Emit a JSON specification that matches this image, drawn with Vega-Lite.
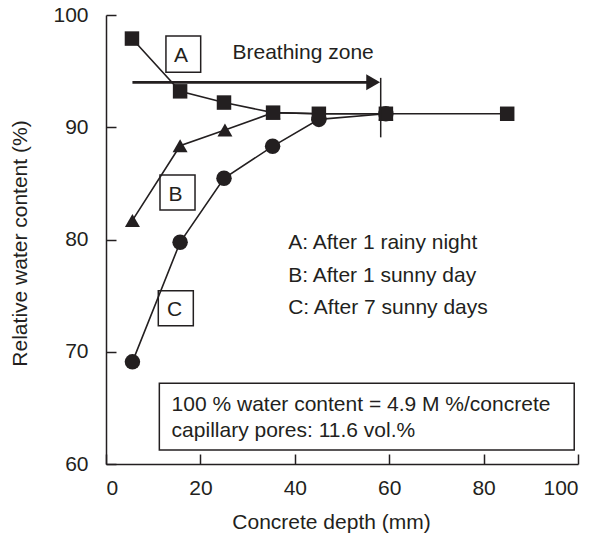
{
  "$schema": "https://vega.github.io/schema/vega-lite/v6.json",
  "width": 472,
  "height": 449,
  "autosize": "none",
  "padding": {"left": 106, "top": 15, "right": 31, "bottom": 78},
  "background": "white",
  "config": {
    "view": {"stroke": null},
    "font": "Liberation Sans",
    "axis": {
      "grid": false,
      "domainColor": "#231f20",
      "domainWidth": 1.5,
      "tickColor": "#231f20",
      "tickWidth": 1.5,
      "tickSize": -10,
      "labelFont": "Liberation Sans",
      "labelFontSize": 21,
      "labelColor": "#231f20",
      "titleFont": "Liberation Sans",
      "titleFontSize": 21,
      "titleFontWeight": "normal",
      "titleColor": "#231f20"
    }
  },
  "datasets": {
    "series": [
      {"series": "C", "depth": 5.6, "rwc": 69.1},
      {"series": "C", "depth": 15.7, "rwc": 79.75},
      {"series": "C", "depth": 25.0, "rwc": 85.45},
      {"series": "C", "depth": 35.3, "rwc": 88.3},
      {"series": "C", "depth": 45.1, "rwc": 90.7},
      {"series": "C", "depth": 59.3, "rwc": 91.2},
      {"series": "B", "depth": 5.6, "rwc": 81.7},
      {"series": "B", "depth": 15.7, "rwc": 88.35},
      {"series": "B", "depth": 25.2, "rwc": 89.75},
      {"series": "B", "depth": 35.4, "rwc": 91.3},
      {"series": "B", "depth": 45.1, "rwc": 91.2},
      {"series": "B", "depth": 59.3, "rwc": 91.2},
      {"series": "A", "depth": 5.5, "rwc": 97.9},
      {"series": "A", "depth": 15.7, "rwc": 93.2},
      {"series": "A", "depth": 25.0, "rwc": 92.2},
      {"series": "A", "depth": 35.4, "rwc": 91.3},
      {"series": "A", "depth": 45.1, "rwc": 91.2},
      {"series": "A", "depth": 59.3, "rwc": 91.2},
      {"series": "A", "depth": 85.0, "rwc": 91.2}
    ],
    "arrow": [
      {"x": 5.6, "y": 94.0},
      {"x": 56.0, "y": 94.0}
    ],
    "arrowhead": [{"x": 56.6, "y": 94.0}],
    "vrule": [{"x": 58.2, "y": 94.4, "y2": 89.1}],
    "boxes": [
      {"x": 12.7, "x2": 20.06, "y": 98.13, "y2": 94.9},
      {"x": 11.44, "x2": 18.86, "y": 85.75, "y2": 82.63},
      {"x": 11.08, "x2": 18.5, "y": 75.44, "y2": 72.32},
      {"x": 11.3, "x2": 99.2, "y": 67.19, "y2": 61.25}
    ],
    "centered": [
      {"label": "A", "x": 15.9, "y": 95.84},
      {"label": "B", "x": 14.7, "y": 83.46},
      {"label": "C", "x": 14.55, "y": 73.21}
    ],
    "lefttext": [
      {"label": "Breathing zone", "x": 26.8, "y": 96.05},
      {"label": "A: After 1 rainy night", "x": 38.6, "y": 79.15},
      {"label": "B: After 1 sunny day", "x": 38.6, "y": 76.24},
      {"label": "C: After 7 sunny days", "x": 38.6, "y": 73.34},
      {"label": "100 % water content = 4.9 M %/concrete", "x": 13.9, "y": 64.75},
      {"label": "capillary pores: 11.6 vol.%", "x": 13.9, "y": 62.43}
    ]
  },
  "encoding": {
    "x": {
      "type": "quantitative",
      "scale": {"domain": [0, 100], "nice": false, "zero": false},
      "axis": {
        "title": "Concrete depth (mm)",
        "values": [0, 20, 40, 60, 80, 100],
        "labelPadding": 23,
        "titleX": 225,
        "titleY": 64,
        "titleAlign": "center",
        "titleBaseline": "alphabetic"
      }
    },
    "y": {
      "type": "quantitative",
      "scale": {"domain": [60, 100], "nice": false, "zero": false},
      "axis": {
        "title": "Relative water content (%)",
        "values": [60, 70, 80, 90, 100],
        "labelPadding": 28,
        "titleX": -80,
        "titleY": 228,
        "titleAngle": -90,
        "titleAlign": "center",
        "titleBaseline": "alphabetic"
      }
    }
  },
  "layer": [
    {
      "data": {"name": "boxes"},
      "mark": {"type": "rect", "fill": null, "fillOpacity": 0, "stroke": "#231f20", "strokeWidth": 1.5},
      "encoding": {
        "x": {"field": "x"},
        "x2": {"field": "x2"},
        "y": {"field": "y"},
        "y2": {"field": "y2"}
      }
    },
    {
      "data": {"name": "series"},
      "mark": {"type": "line", "color": "#231f20", "strokeWidth": 1.6},
      "encoding": {
        "x": {"field": "depth"},
        "y": {"field": "rwc"},
        "detail": {"field": "series"}
      }
    },
    {
      "data": {"name": "series"},
      "mark": {"type": "point", "filled": true, "color": "#231f20", "opacity": 1},
      "encoding": {
        "x": {"field": "depth"},
        "y": {"field": "rwc"},
        "shape": {
          "field": "series",
          "type": "nominal",
          "scale": {"domain": ["A", "B", "C"], "range": ["square", "triangle-up", "circle"]},
          "legend": null
        },
        "size": {
          "field": "series",
          "type": "nominal",
          "scale": {"domain": ["A", "B", "C"], "range": [210, 240, 190]},
          "legend": null
        }
      }
    },
    {
      "data": {"name": "arrow"},
      "mark": {"type": "line", "color": "#231f20", "strokeWidth": 2.8},
      "encoding": {
        "x": {"field": "x"},
        "y": {"field": "y"}
      }
    },
    {
      "data": {"name": "arrowhead"},
      "mark": {"type": "point", "shape": "triangle-right", "filled": true, "color": "#231f20", "opacity": 1, "size": 256},
      "encoding": {
        "x": {"field": "x"},
        "y": {"field": "y"}
      }
    },
    {
      "data": {"name": "vrule"},
      "mark": {"type": "rule", "color": "#231f20", "strokeWidth": 1.5},
      "encoding": {
        "x": {"field": "x"},
        "y": {"field": "y"},
        "y2": {"field": "y2"}
      }
    },
    {
      "data": {"name": "centered"},
      "mark": {"type": "text", "font": "Liberation Sans", "fontSize": 21, "align": "center", "baseline": "alphabetic", "color": "#231f20"},
      "encoding": {
        "x": {"field": "x"},
        "y": {"field": "y"},
        "text": {"field": "label"}
      }
    },
    {
      "data": {"name": "lefttext"},
      "mark": {"type": "text", "font": "Liberation Sans", "fontSize": 21, "align": "left", "baseline": "alphabetic", "color": "#231f20"},
      "encoding": {
        "x": {"field": "x"},
        "y": {"field": "y"},
        "text": {"field": "label"}
      }
    }
  ]
}
